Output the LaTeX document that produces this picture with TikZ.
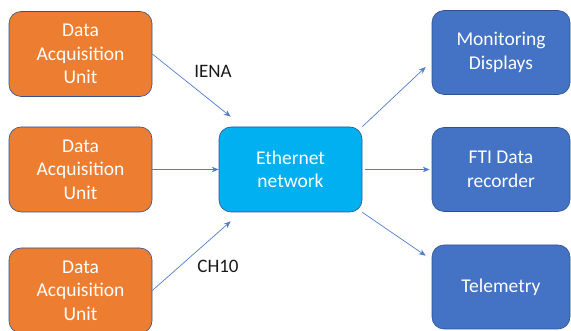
\documentclass[tikz,border=0pt]{standalone}
\usepackage{fontspec}
\setmainfont{Carlito}
\usepackage{tikz}
\usetikzlibrary{arrows.meta, positioning}
\definecolor{dauorange}{RGB}{237,125,49}
\definecolor{netcyan}{RGB}{0,176,240}
\definecolor{sinkblue}{RGB}{68,114,196}
\definecolor{edgeblue}{RGB}{47,82,143}
\definecolor{arrowblue}{RGB}{80,126,205}

\begin{document}
\begin{tikzpicture}[
    x=1pt, y=-1pt,
    box/.style={rectangle, draw=edgeblue, line width=0.6pt, rounded corners=12pt, minimum width=143pt, minimum height=85pt, align=center, text=white, font=\fontsize{19.5}{23.5}\selectfont},
    dau/.style={box, fill=dauorange},
    sink/.style={box, fill=sinkblue, minimum width=138pt, minimum height=84pt},
    lbl/.style={font=\fontsize{19}{23}\selectfont, text=black!90},
    arr/.style={-{Stealth[length=7pt, width=5.5pt]}, line width=0.7pt, arrowblue},
]
\useasboundingbox (0,0) rectangle (571,331);

\node[dau] (dau1) at (80.5,54) {Data\\Acquisition\\Unit};
\node[dau] (dau2) at (80.5,169.5) {Data\\Acquisition\\Unit};
\node[dau] (dau3) at (80.5,290.5) {Data\\Acquisition\\Unit};

\node[box, fill=netcyan] (eth) at (290.5,169.5) {Ethernet\\network};

\node[sink] (mon) at (501,52.5) {Monitoring\\Displays};
\node[sink] (fti) at (501,169.5) {FTI Data\\recorder};
\node[sink] (tel) at (501,287) {Telemetry};

\node[lbl] (iena) at (213,71) {IENA};
\node[lbl] (ch10) at (218,266) {CH10};

\draw[arr] (dau1.east) -- ([xshift=12pt, yshift=10pt]eth.north west);
\draw[arr] (dau2) -- (eth);
\draw[arr] (dau3.east) -- ([xshift=12pt, yshift=-9pt]eth.south west);
\draw[arr] (eth.north east) -- ([xshift=-6pt, yshift=-14.5pt]mon.west);
\draw[arr] ([xshift=3pt]eth.east) -- ([xshift=-2pt]fti.west);
\draw[arr] (eth.south east) -- ([xshift=-6pt, yshift=-11pt]tel.north west);
\end{tikzpicture}
\end{document}
